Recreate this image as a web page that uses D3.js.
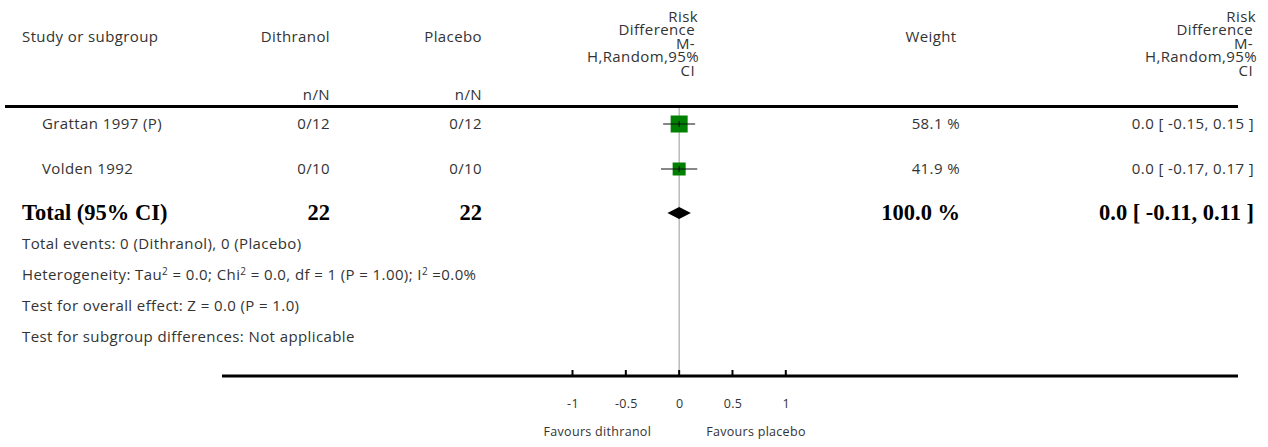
<!DOCTYPE html>
<html><head><meta charset="utf-8">
<script src="https://cdn.jsdelivr.net/npm/d3@7"></script>
<style>
html,body{margin:0;padding:0;background:#fff;}
svg text{font-family:"Open Sans","Lato",sans-serif;font-size:15px;letter-spacing:0.4px;fill:#333;}
svg text.bold{font-family:"Liberation Serif","Times New Roman",serif;font-weight:bold;font-size:22.5px;letter-spacing:0;fill:#000;}
svg text.small{font-size:12.5px;letter-spacing:0.3px;}
</style>
</head><body>
<script>
const studies = ["Grattan 1997 (P)", "Volden 1992"];
const dithranolN = ["0/12", "0/10"];
const placeboN = ["0/12", "0/10"];
const estimates = [0.0, 0.0];
const lower = [-0.15, -0.17];
const upper = [0.15, 0.17];
const weights = [58.1, 41.9];
const ciText = ["0.0 [ -0.15, 0.15 ]", "0.0 [ -0.17, 0.17 ]"];
const total = {label: "Total (95% CI)", d: "22", p: "22", est: 0.0, lo: -0.11, hi: 0.11, weight: "100.0 %", ci: "0.0 [ -0.11, 0.11 ]"};
const footnotes = [
  "Total events: 0 (Dithranol), 0 (Placebo)",
  "HET",
  "Test for overall effect: Z = 0.0 (P = 1.0)",
  "Test for subgroup differences: Not applicable"
];
const tickValues = [-1, -0.5, 0, 0.5, 1];
const tickLabels = ["-1", "-0.5", "0", "0.5", "1"];
const favLeft = "Favours dithranol";
const favRight = "Favours placebo";
const headerRD = ["Risk", "Difference", "M-", "H,Random,95%", "CI"];

const W = 1268, H = 447;
const svg = d3.select("body").append("svg").attr("width", W).attr("height", H);

const x = d3.scaleLinear().domain([-1, 1]).range([572.5, 785.8]);
const rowY = d3.scalePoint().domain(studies).range([124, 169]);
const totalY = 213;
const sq = d3.scaleLinear().domain([41.9, 58.1]).range([13, 17]);

// header
const hY = 42;
svg.append("text").attr("x", 22).attr("y", hY).text("Study or subgroup");
svg.append("text").attr("x", 330).attr("y", hY).attr("text-anchor", "end").text("Dithranol");
svg.append("text").attr("x", 482).attr("y", hY).attr("text-anchor", "end").text("Placebo");
svg.append("text").attr("x", 330).attr("y", 100).attr("text-anchor", "end").text("n/N");
svg.append("text").attr("x", 482).attr("y", 100).attr("text-anchor", "end").text("n/N");
svg.append("text").attr("x", 931).attr("y", hY).attr("text-anchor", "middle").text("Weight");
const rdOff = [0, -3, -3, 1, -3];
[698, 1256].forEach(rx => {
  const t = svg.append("text").attr("text-anchor", "end").attr("y", 22);
  headerRD.forEach((s, i) => {
    t.append("tspan").attr("x", rx + rdOff[i]).attr("y", 22 + i * 13.4).text(s);
  });
});

// header rule
svg.append("line").attr("x1", 5).attr("x2", 1238).attr("y1", 106.5).attr("y2", 106.5)
  .attr("stroke", "#000").attr("stroke-width", 3);

// zero line
svg.append("line").attr("x1", x(0)).attr("x2", x(0)).attr("y1", 108).attr("y2", 375)
  .attr("stroke", "#999").attr("stroke-width", 1);

// study rows
studies.forEach((s, i) => {
  const y = rowY(s);
  svg.append("text").attr("x", 42).attr("y", y + 5).text(s);
  svg.append("text").attr("x", 330).attr("y", y + 5).attr("text-anchor", "end").text(dithranolN[i]);
  svg.append("text").attr("x", 482).attr("y", y + 5).attr("text-anchor", "end").text(placeboN[i]);
  svg.append("text").attr("x", 960).attr("y", y + 5).attr("text-anchor", "end").text(weights[i].toFixed(1) + " %");
  svg.append("text").attr("x", 1254).attr("y", y + 5).attr("text-anchor", "end").text(ciText[i]);
  const s2 = sq(weights[i]);
  svg.append("rect").attr("x", x(estimates[i]) - s2 / 2).attr("y", y - s2 / 2)
    .attr("width", s2).attr("height", s2).attr("fill", "#008000");
  svg.append("line").attr("x1", x(lower[i])).attr("x2", x(upper[i])).attr("y1", y).attr("y2", y)
    .attr("stroke", "#111").attr("stroke-width", 1.2);
  svg.append("line").attr("x1", x(estimates[i])).attr("x2", x(estimates[i])).attr("y1", y - 3).attr("y2", y + 3)
    .attr("stroke", "#000").attr("stroke-width", 1);
});

// total row
const tb = totalY + 7;
svg.append("text").attr("class", "bold").attr("x", 22).attr("y", tb).text(total.label);
svg.append("text").attr("class", "bold").attr("x", 330).attr("y", tb).attr("text-anchor", "end").text(total.d);
svg.append("text").attr("class", "bold").attr("x", 482).attr("y", tb).attr("text-anchor", "end").text(total.p);
svg.append("text").attr("class", "bold").attr("x", 960).attr("y", tb).attr("text-anchor", "end").text(total.weight);
svg.append("text").attr("class", "bold").attr("x", 1254).attr("y", tb).attr("text-anchor", "end").text(total.ci);
svg.append("path")
  .attr("d", `M${x(total.lo)},${totalY} L${x(total.est)},${totalY - 6} L${x(total.hi)},${totalY} L${x(total.est)},${totalY + 6} Z`)
  .attr("fill", "#000");

// footnotes
const fy = [249, 280, 311, 342];
footnotes.forEach((t, i) => {
  const tx = svg.append("text").attr("x", 22).attr("y", fy[i]);
  if (t === "HET") {
    tx.append("tspan").text("Heterogeneity: Tau");
    tx.append("tspan").attr("dy", -5).attr("font-size", "10px").text("2");
    tx.append("tspan").attr("dy", 5).text(" = 0.0; Chi");
    tx.append("tspan").attr("dy", -5).attr("font-size", "10px").text("2");
    tx.append("tspan").attr("dy", 5).text(" = 0.0, df = 1 (P = 1.00); I");
    tx.append("tspan").attr("dy", -5).attr("font-size", "10px").text("2");
    tx.append("tspan").attr("dy", 5).text(" =0.0%");
  } else {
    tx.text(t);
  }
});

// bottom axis
svg.append("line").attr("x1", 222).attr("x2", 1238).attr("y1", 376).attr("y2", 376)
  .attr("stroke", "#000").attr("stroke-width", 3);
const axis = d3.axisBottom(x).tickValues(tickValues).tickSize(0)
  .tickFormat((d, i) => tickLabels[i]);
const ag = svg.append("g").attr("transform", "translate(0,376)").call(axis);
ag.select(".domain").remove();
ag.selectAll(".tick text").attr("dy", 0).attr("y", 32).attr("class", "small")
  .style("font-family", "'Open Sans', sans-serif").attr("fill", "#333");
tickValues.forEach(v => {
  svg.append("line").attr("x1", x(v)).attr("x2", x(v)).attr("y1", 370).attr("y2", 376)
    .attr("stroke", "#000").attr("stroke-width", 2);
});
svg.append("text").attr("class", "small").attr("x", x(0) - 28).attr("y", 436).attr("text-anchor", "end").text(favLeft);
svg.append("text").attr("class", "small").attr("x", x(0) + 27).attr("y", 436).attr("text-anchor", "start").text(favRight);
</script>
</body></html>
